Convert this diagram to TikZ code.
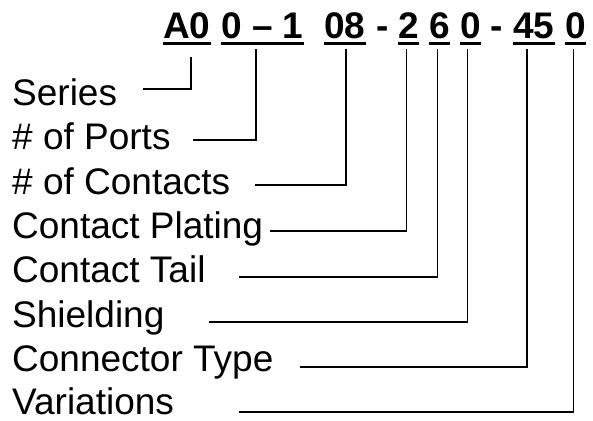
\documentclass[tikz,border=0pt]{standalone}
\usepackage{fontspec}
\setmainfont{Liberation Sans}
\usetikzlibrary{positioning,calc}

\tikzset{
  code/.style={inner sep=0pt, anchor=base west, font=\fontsize{37}{40}\selectfont\bfseries},
  field/.style={inner sep=0pt, anchor=base west, font=\fontsize{37}{40}\selectfont},
  uline/.style={line width=3pt},
  lead/.style={line width=1.8pt}
}

\begin{document}
\begin{tikzpicture}[x=1pt,y=-1pt]
    \useasboundingbox (0,0) rectangle (593,420);
    % part number
    \node[code] (ser) at (163,38) {A0};
    \node[code] (prt) at (221,38) {0 – 1};
    \node[code] (cnt) at (324,38) {08};
    \node[code] (d1) at (376,38) {-};
    \node[code] (plt) at (398,38) {2};
    \node[code] (tal) at (429,38) {6};
    \node[code] (shd) at (460,38) {0};
    \node[code] (d2) at (490,38) {-};
    \node[code] (typ) at (513,38) {45};
    \node[code] (var) at (565,38) {0};
    \foreach \n in {ser,prt,cnt,plt,tal,shd,typ,var}
        \draw[uline] ([yshift=-6pt]\n.base west) -- ([yshift=-6pt]\n.base east);

    % fields
    \node[field] (lser) at (12,105) {Series};
    \node[field] (lprt) at (12,149.5) {\# of Ports};
    \node[field] (lcnt) at (12,194) {\# of Contacts};
    \node[field] (lplt) at (12,238) {Contact Plating};
    \node[field] (ltal) at (12,282) {Contact Tail};
    \node[field] (lshd) at (12,327) {Shielding};
    \node[field] (ltyp) at (12,371.5) {Connector Type};
    \node[field] (lvar) at (12,414.5) {Variations};

    \coordinate (aser) at (143,89);
    \coordinate (aprt) at (193,140);
    \coordinate (acnt) at (255,185);
    \coordinate (aplt) at (270,231);
    \coordinate (atal) at (239,277);
    \coordinate (ashd) at (209,322);
    \coordinate (atyp) at (300,367);
    \coordinate (avar) at (239,412);

    \draw[lead] (aser) -| ([xshift=4.5pt,yshift=-19pt]ser.base);
    \draw[lead] (aprt) -| ([xshift=-6pt,yshift=-11pt]prt.base);
    \draw[lead] (acnt) -| ([xshift=1pt,yshift=-11pt]cnt.base);
    \draw[lead] (aplt) -| ([xshift=-2pt,yshift=-11pt]plt.base);
    \draw[lead] (atal) -| ([xshift=-2pt,yshift=-11pt]tal.base);
    \draw[lead] (ashd) -| ([xshift=-3pt,yshift=-11pt]shd.base);
    \draw[lead] (atyp) -| ([xshift=-6.5pt,yshift=-11pt]typ.base);
    \draw[lead] (avar) -| ([xshift=-2pt,yshift=-11pt]var.base);
\end{tikzpicture}
\end{document}
